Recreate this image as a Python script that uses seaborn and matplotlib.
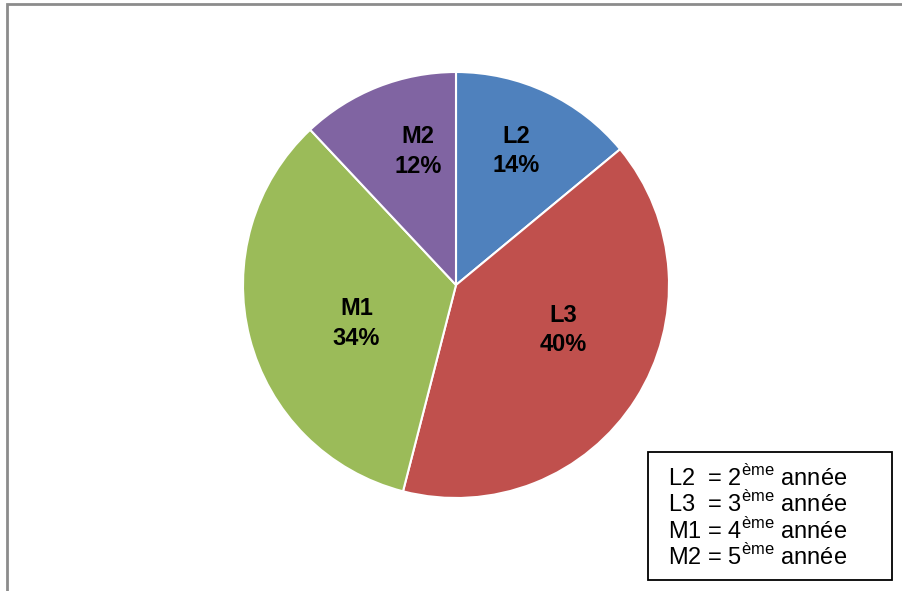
import numpy as np
import matplotlib.pyplot as plt
import seaborn as sns
from matplotlib.patches import Rectangle

levels = ['L2', 'L3', 'M1', 'M2']
shares = [14, 40, 34, 12]
years = ['2', '3', '4', '5']
colors = ['#4F81BD', '#C0504D', '#9BBB59', '#8064A2']
# label placement: distance from centre (fraction of radius), angle tweak in degrees
label_dist = [0.69, 0.545, 0.50, 0.65]
label_turn = [1, 9.6, 6.6, -5.7]

sns.set_theme(style='white')
plt.rcParams['font.family'] = ['Liberation Sans', 'DejaVu Sans']
plt.rcParams['mathtext.fontset'] = 'custom'
plt.rcParams['mathtext.rm'] = 'Liberation Sans'

fig = plt.figure(figsize=(9.02, 5.91), dpi=100)
fig.patch.set_facecolor('white')

# outer chart frame (cut off at right / bottom like the original)
fig.patches.append(Rectangle((7 / 902, -0.1), 1.2, 1 - 3.5 / 591 + 0.1,
                             transform=fig.transFigure, fill=False,
                             ec='#8c8c8c', lw=2))

ax = fig.add_axes([243 / 902, 93 / 591, 426 / 902, 426 / 591])
wedges, _ = ax.pie(shares, colors=colors, startangle=90, counterclock=False,
                   wedgeprops=dict(edgecolor='white', linewidth=1.5))
ax.set_xlim(-1, 1)
ax.set_ylim(-1, 1)
ax.set_aspect('equal')
ax.axis('off')

for w, name, val, d, t in zip(wedges, levels, shares, label_dist, label_turn):
    ang = np.deg2rad((w.theta1 + w.theta2) / 2 + t)
    ax.text(d * np.cos(ang), d * np.sin(ang), f'{name}\n{val}%',
            ha='center', va='center', fontsize=17, fontweight='bold',
            linespacing=1.38, color='black')

# definitions box
fig.patches.append(Rectangle((648 / 902, 1 - 580 / 591), 244 / 902, 128 / 591,
                             transform=fig.transFigure, fc='white',
                             ec='black', lw=1.3))
for i, (name, yr) in enumerate(zip(levels, years)):
    pad = '  ' if name.startswith('L') else ' '
    fig.text(668 / 902, 1 - (478 + 26.3 * i) / 591,
             f'{name}{pad}= {yr}$^{{\\mathrm{{ème}}}}$ année',
             ha='left', va='center', fontsize=17, color='black')

fig.savefig('out.png', dpi=100)
